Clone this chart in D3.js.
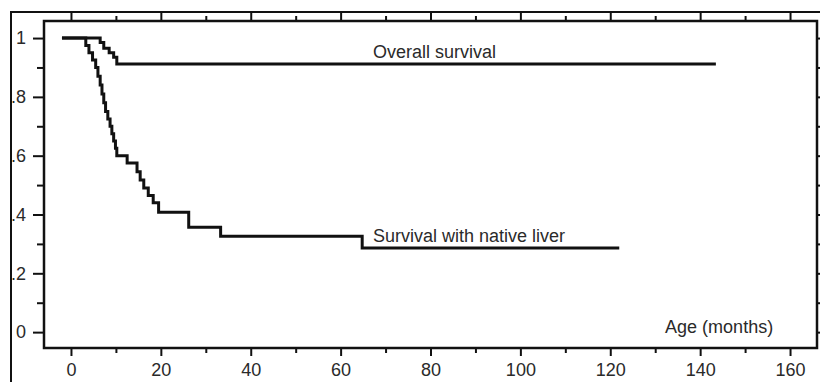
<!DOCTYPE html>
<html>
<head>
<meta charset="utf-8">
<script src="https://cdn.jsdelivr.net/npm/d3@7"></script>
<style>
  body { margin: 0; background: #fff; }
  text { font-family: "Liberation Sans", Arial, sans-serif; fill: #2a2a2a; }
</style>
</head>
<body>
<div id="chart-area"></div>
<script>
// Kaplan-Meier steps: time of each point (months) and survival after it
var overallMonths = [-2, 6.5, 7.3, 8.5, 9.5, 10.2, 143.5];
var overallSurv   = [1, 0.985, 0.965, 0.95, 0.935, 0.912, 0.912];

var nativeMonths = [-2, 3.3, 4.0, 4.8, 5.5, 6.0, 6.5, 6.9, 7.3, 7.7, 8.2, 8.7, 9.1, 9.5, 9.9,
  10.2, 12.5, 14.7, 15.4, 16.2, 17.2, 18.3, 19.5, 26.2, 33.3, 64.8, 122];
var nativeSurv = [1, 0.975, 0.95, 0.925, 0.90, 0.87, 0.84, 0.81, 0.78, 0.75, 0.725, 0.70, 0.675, 0.65, 0.625,
  0.60, 0.575, 0.545, 0.517, 0.49, 0.465, 0.44, 0.408, 0.357, 0.326, 0.286, 0.286];

var xMajor = [0, 20, 40, 60, 80, 100, 120, 140, 160];
var xMinor = [10, 30, 50, 70, 90, 110, 130, 150];
var yMajor = [0, 0.2, 0.4, 0.6, 0.8, 1];
var yMinor = [0.1, 0.3, 0.5, 0.7, 0.9];
var yLabels = ["0", ".2", ".4", ".6", ".8", "1"];

var margin = { left: 44, right: 3, top: 21, bottom: 34 };
var width = 820 - margin.left - margin.right;
var height = 382 - margin.top - margin.bottom;

var svg = d3.select("#chart-area").append("svg")
  .attr("width", 820)
  .attr("height", 382);

// outer frame
svg.append("rect")
  .attr("x", 11).attr("y", 12)
  .attr("width", 830).attr("height", 400)
  .attr("fill", "none")
  .attr("stroke", "#111")
  .attr("stroke-width", 2);

var g = svg.append("g")
  .attr("transform", "translate(" + margin.left + "," + margin.top + ")");

var x = d3.scaleLinear().domain([-6, 166]).range([0, width]);
var y = d3.scaleLinear().domain([-0.054, 1.058]).range([height, 0]);

function styleAxis(sel) {
  sel.select(".domain").remove();
  sel.selectAll("line").attr("stroke", "#111").attr("stroke-width", 2);
  sel.selectAll("text").attr("font-size", "18px").attr("fill", "#2a2a2a")
    .attr("font-family", "Liberation Sans, Arial, sans-serif");
}

// bottom
g.append("g").attr("transform", "translate(0," + height + ")")
  .call(d3.axisBottom(x).tickValues(xMajor).tickSize(8).tickPadding(7)
    .tickFormat(function(d) { return d; }))
  .call(styleAxis);
g.append("g").attr("transform", "translate(0," + height + ")")
  .call(d3.axisBottom(x).tickValues(xMinor).tickSize(5).tickFormat(""))
  .call(styleAxis);

// top
g.append("g")
  .call(d3.axisTop(x).tickValues(xMajor).tickSize(9).tickFormat(""))
  .call(styleAxis);
g.append("g")
  .call(d3.axisTop(x).tickValues(xMinor).tickSize(5).tickFormat(""))
  .call(styleAxis);

// left
g.append("g")
  .call(d3.axisLeft(y).tickValues(yMajor).tickSize(11).tickPadding(7)
    .tickFormat(function(d, i) { return yLabels[i]; }))
  .call(styleAxis);
g.append("g")
  .call(d3.axisLeft(y).tickValues(yMinor).tickSize(7).tickFormat(""))
  .call(styleAxis);

// right
g.append("g").attr("transform", "translate(" + width + ",0)")
  .call(d3.axisRight(y).tickValues(yMajor).tickSize(9).tickFormat(""))
  .call(styleAxis);
g.append("g").attr("transform", "translate(" + width + ",0)")
  .call(d3.axisRight(y).tickValues(yMinor).tickSize(9).tickFormat(""))
  .call(styleAxis);

// inner plot border
g.append("rect")
  .attr("width", width).attr("height", height)
  .attr("fill", "none")
  .attr("stroke", "#111")
  .attr("stroke-width", 2.5);

var line = d3.line()
  .x(function(d) { return x(d[0]); })
  .y(function(d) { return y(d[1]); })
  .curve(d3.curveStepAfter);

g.append("path")
  .datum(d3.zip(overallMonths, overallSurv))
  .attr("d", line)
  .attr("fill", "none")
  .attr("stroke", "#111")
  .attr("stroke-width", 3);

g.append("path")
  .datum(d3.zip(nativeMonths, nativeSurv))
  .attr("d", line)
  .attr("fill", "none")
  .attr("stroke", "#111")
  .attr("stroke-width", 3);

// curve labels
g.append("text")
  .attr("x", x(67.2)).attr("y", y(0.912) - 6)
  .attr("font-size", "18px")
  .text("Overall survival");

g.append("text")
  .attr("x", x(67.2)).attr("y", y(0.286) - 6)
  .attr("font-size", "18px")
  .text("Survival with native liver");

g.append("text")
  .attr("x", x(132.2)).attr("y", y(-0.003))
  .attr("font-size", "18px")
  .text("Age (months)");
</script>
</body>
</html>
